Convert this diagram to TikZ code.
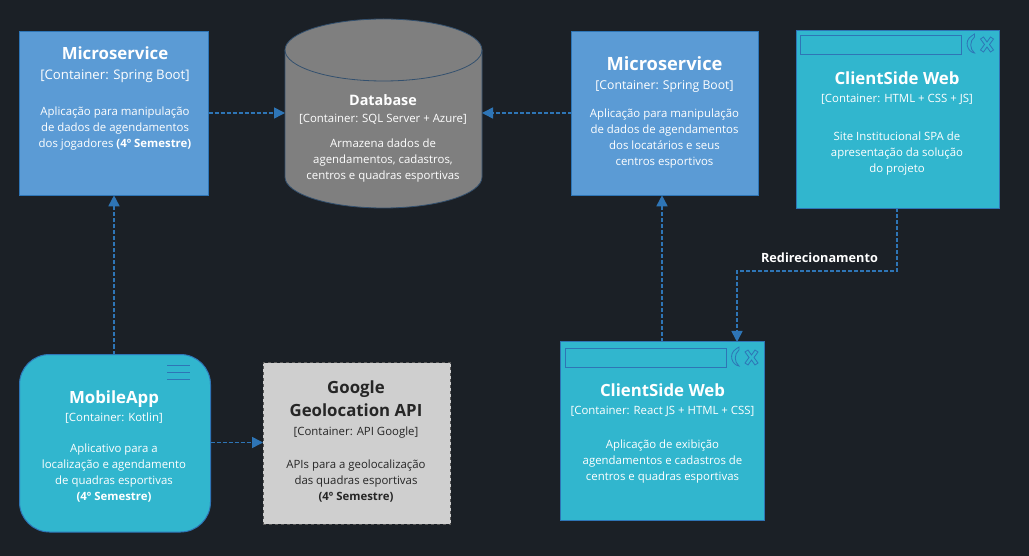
\documentclass[tikz,border=0pt]{standalone}
\usepackage{fontspec}
\setmainfont{Open Sans}
\usetikzlibrary{arrows.meta}
\definecolor{bgc}{HTML}{1B2026}
\definecolor{teal}{HTML}{31B6CE}
\definecolor{msblue}{HTML}{5B9BD5}
\definecolor{edge}{HTML}{2E75B6}
\definecolor{cyl}{HTML}{7F7F7F}
\definecolor{cyledge}{HTML}{33506E}
\definecolor{gbox}{HTML}{CFCFCF}
\newcommand{\Tl}[2][16.8]{\smash{\fontsize{#1}{20}\selectfont\bfseries #2}}
\newcommand{\Sb}[2][11.4]{\smash{\fontsize{#1}{15}\selectfont #2}}
\newcommand{\Bd}[1]{\smash{\fontsize{11.4}{16}\selectfont #1}}
\tikzset{
  x=1pt,y=-1pt,
  boxn/.style={draw=edge,line width=1pt,inner sep=0,outer sep=0,anchor=north west},
  msbox/.style={boxn,fill=msblue},
  tealbox/.style={boxn,fill=teal},
  lab/.style={align=center,text=white,inner sep=0,outer sep=0,anchor=north},
  labd/.style={lab,text=black!85},
  flow/.style={draw=edge,line width=1.6pt,dash pattern=on 4pt off 2pt,
    -{Triangle[length=11pt,width=11pt,fill=edge,sep=0pt]}},
  icon/.style={draw=edge,line width=.8pt,fill=none},
}
\newcommand{\winicons}[2]{%
 \begin{scope}[shift={(#1,#2)}]
  \draw[icon] (0,0) rectangle (161,19);
  \draw[icon] (171,1) -- (174,-1) -- (174,2) .. controls (169,6) and (169,14) .. (174,18)
     .. controls (167,17) and (163,6) .. (171,1) -- cycle;
  \draw[icon] (180,4) -- (183,2) -- (186.500,7) -- (190,2) -- (193,4) -- (189,9.500)
     -- (193,15) -- (190,17) -- (186.500,12) -- (183,17) -- (180,15) -- (184,9.500) -- cycle;
 \end{scope}}
\begin{document}
\begin{tikzpicture}
\useasboundingbox[fill=bgc] (0,0) rectangle (1029,556);
% boxes
\node[msbox,minimum width=189pt,minimum height=164pt] (ms1) at (19.700,31.300) {};
\node[msbox,minimum width=186.500pt,minimum height=164pt] (ms2) at (571.500,31.300) {};
\node[tealbox,minimum width=203pt,minimum height=178pt] (cw1) at (796.500,30.500) {};
\node[tealbox,minimum width=204pt,minimum height=178pt] (cw2) at (560.500,342) {};
\node[boxn,fill=teal,rounded corners=30pt,minimum width=191pt,minimum height=177.500pt] (mob) at (19.500,354.500) {};
\node[boxn,fill=gbox,draw=black!65,dashed,minimum width=187.500pt,minimum height=161.300pt] (geo) at (263,362.700) {};
% database: invisible anchor node plus the cylinder shape
\node[inner sep=0,outer sep=0,anchor=north west,minimum width=197pt,minimum height=189pt] (db) at (285,19) {};
\draw[draw=cyledge,fill=cyl,line width=.8pt] (285,50)
   .. controls (285,33) and (329,19) .. (383.500,19)
   .. controls (438,19) and (482,33) .. (482,50)
   -- (482,177)
   .. controls (482,194) and (438,208) .. (383.500,208)
   .. controls (329,208) and (285,194) .. (285,177) -- cycle;
\draw[draw=cyledge,line width=.8pt] (285,50)
   .. controls (285,67) and (329,81) .. (383.500,81)
   .. controls (438,81) and (482,67) .. (482,50);
% decorations
\winicons{800.500}{35}
\winicons{565}{348}
\foreach \yy in {365,372,379} \draw[icon] (167,\yy) -- (190,\yy);
% texts
\node[lab] (t1) at (115,60) {\Tl{Microservice}\\[8pt]\Sb[13.2]{[Container: Spring Boot]}\\[24pt]
 \Bd{Aplicação para manipulação}\\[4pt]\Bd{de dados de agendamentos}\\[4pt]\Bd{dos jogadores \textbf{(4º Semestre)}}};
\node[lab] (t2) at (664.500,71) {\Tl[18.3]{Microservice}\\[7pt]\Sb[12.2]{[Container: Spring Boot]}\\[16pt]
 \Bd{Aplicação para manipulação}\\[4pt]\Bd{de dados de agendamentos}\\[4pt]\Bd{dos locatários e seus}\\[4pt]\Bd{centros esportivos}};
\node[lab] (t3) at (897,85) {\Tl{ClientSide Web}\\[6pt]\Sb{[Container: HTML + CSS + JS]}\\[26pt]
 \Bd{Site Institucional SPA de}\\[4pt]\Bd{apresentação da solução}\\[4pt]\Bd{do projeto}};
\node[lab] (t4) at (662.500,396) {\Tl{ClientSide Web}\\[6pt]\Sb{[Container: React JS + HTML + CSS]}\\[22pt]
 \Bd{Aplicação de exibição}\\[4pt]\Bd{agendamentos e cadastros de}\\[4pt]\Bd{centros e quadras esportivas}};
\node[lab] (t5) at (114,403) {\Tl{MobileApp}\\[6pt]\Sb{[Container: Kotlin]}\\[19pt]
 \Bd{Aplicativo para a}\\[4pt]\Bd{localização e agendamento}\\[4pt]\Bd{de quadras esportivas}\\[4pt]\Bd{\textbf{(4º Semestre)}}};
\node[labd] (t6) at (356,393) {\Tl{Google}\\[11pt]\Tl{Geolocation API}\\[7pt]\Sb{[Container: API Google]}\\[21pt]
 \Bd{APIs para a geolocalização}\\[4pt]\Bd{das quadras esportivas}\\[4pt]\Bd{\textbf{(4º Semestre)}}};
\node[lab] (t7) at (383,106) {\Tl[14.4]{Database}\\[5pt]\Sb{[Container: SQL Server + Azure]}\\[13pt]
 \Bd{Armazena dados de}\\[4pt]\Bd{agendamentos, cadastros,}\\[4pt]\Bd{centros e quadras esportivas}};
% connectors
\draw[flow] (ms1.east |- 0,113) -- (db.west |- 0,113);
\draw[flow] (ms2.west |- 0,113) -- (db.east |- 0,113);
\draw[flow] (mob.north -| 114,0) -- (ms1.south -| 114,0);
\draw[flow] (mob.east |- 0,442.500) -- (geo.west |- 0,442.500);
\draw[flow] (cw2.north -| 662,0) -- (ms2.south -| 662,0);
\coordinate (bend) at (737,271);
\draw[flow] (cw1.south -| 897,0) |- (bend) -- (cw2.north -| bend);
\node[text=white,inner sep=0,font=\fontsize{12.7}{14}\selectfont\bfseries] (red) at (819.500,258) {Redirecionamento};
\end{tikzpicture}
\end{document}
